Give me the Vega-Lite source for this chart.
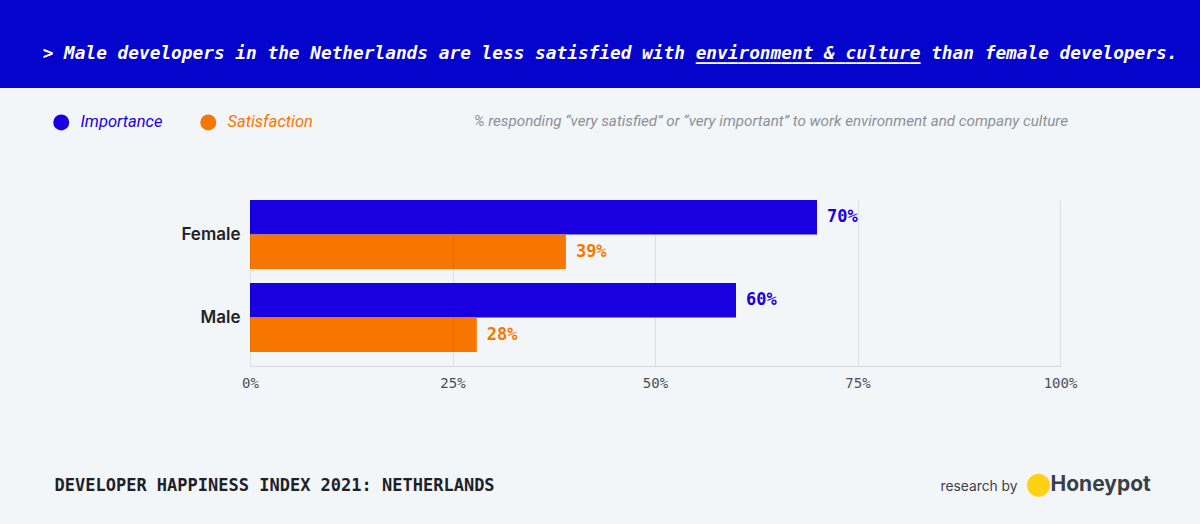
{
  "$schema": "https://vega.github.io/schema/vega-lite/v6.json",
  "background": "#f3f6f9",
  "padding": {"left": 0, "top": 0, "right": 0, "bottom": 28},
  "spacing": 25,
  "config": {"view": {"stroke": null}},
  "vconcat": [
    {
      "width": 1200,
      "height": 88,
      "view": {"fill": "#0404cc", "stroke": null},
      "data": {"values": [{"t": "> Male developers in the Netherlands are less satisfied with environment & culture than female developers.\n\u200b\u00a0\u00a0\u00a0\u00a0\u00a0\u00a0\u00a0\u00a0\u00a0\u00a0\u00a0\u00a0\u00a0\u00a0\u00a0\u00a0\u00a0\u00a0\u00a0\u00a0\u00a0\u00a0\u00a0\u00a0\u00a0\u00a0\u00a0\u00a0\u00a0\u00a0\u00a0\u00a0\u00a0\u00a0\u00a0\u00a0\u00a0\u00a0\u00a0\u00a0\u00a0\u00a0\u00a0\u00a0\u00a0\u00a0\u00a0\u00a0\u00a0\u00a0\u00a0\u00a0\u00a0\u00a0\u00a0\u00a0\u00a0\u00a0\u00a0\u00a0\u00a0_____________________\u00a0\u00a0\u00a0\u00a0\u00a0\u00a0\u00a0\u00a0\u00a0\u00a0\u00a0\u00a0\u00a0\u00a0\u00a0\u00a0\u00a0\u00a0\u00a0\u00a0\u00a0\u00a0\u00a0\u00a0\u200b"}]},
      "mark": {"type": "text", "font": "DejaVu Sans Mono", "fontStyle": "italic", "fontWeight": "bold", "fontSize": 17.8, "color": "#ffffff", "align": "center", "baseline": "middle", "lineBreak": "\n", "lineHeight": 0.5, "dx": 10, "dy": 10},
      "encoding": {"text": {"field": "t", "type": "nominal"}}
    },
    {
      "width": 1060,
      "height": 166,
      "title": {"text": "% responding “very satisfied” or “very important” to work environment and company culture", "frame": "group", "anchor": "end", "offset": 71, "dx": 8, "font": "Roboto", "fontStyle": "italic", "fontWeight": "normal", "fontSize": 15.2, "color": "#8b9098"},
      "data": {"values": [
        {"gender": "Female", "metric": "Importance", "value": 0.70},
        {"gender": "Female", "metric": "Satisfaction", "value": 0.39},
        {"gender": "Male", "metric": "Importance", "value": 0.60},
        {"gender": "Male", "metric": "Satisfaction", "value": 0.28}
      ]},
      "encoding": {
        "yOffset": {"field": "metric", "type": "nominal", "sort": ["Importance", "Satisfaction"], "scale": {"paddingInner": 0, "paddingOuter": 0}},
        "color": {
          "field": "metric", "type": "nominal",
          "scale": {"domain": ["Importance", "Satisfaction"], "range": ["#1a00e0", "#f77600"]},
          "legend": {
            "orient": "none", "legendX": 53, "legendY": 114, "direction": "horizontal", "title": null,
            "symbolType": "circle", "symbolSize": 256, "symbolStrokeWidth": 0, "symbolOpacity": 1,
            "labelFont": "Roboto", "labelFontStyle": "italic", "labelFontSize": 16.5, "labelOffset": 11,
            "columnPadding": 37, "labelLimit": 0,
            "encode": {"labels": {"update": {"fill": {"signal": "datum.label === 'Importance' ? '#1a00e0' : '#f77600'"}}}}
          }
        }
      },
      "layer": [
        {
          "mark": {"type": "bar"},
          "encoding": {
            "x": {
              "field": "value", "type": "quantitative",
              "scale": {"domain": [0, 1], "nice": false, "range": [250, 1060]},
              "axis": {
                "orient": "bottom", "values": [0, 0.25, 0.5, 0.75, 1], "format": ".0%", "labelFlush": false,
                "labelFont": "DejaVu Sans Mono", "labelFontSize": 14, "labelColor": "#4a4f57", "labelPadding": 10,
                "ticks": false, "domainColor": "#d3d7dc", "grid": true, "gridColor": "#000000", "gridOpacity": 0.09, "zindex": 1,
                "title": "DEVELOPER HAPPINESS INDEX 2021: NETHERLANDS", "titleX": 54, "titleY": 124,
                "titleAlign": "left", "titleBaseline": "alphabetic", "titleFont": "DejaVu Sans Mono",
                "titleFontSize": 17, "titleFontWeight": "bold", "titleColor": "#1e2228"
              }
            },
            "y": {
              "field": "gender", "type": "nominal", "sort": ["Female", "Male"],
              "scale": {"paddingInner": 0.1687, "paddingOuter": 0.0843, "align": 0},
              "axis": {
                "orient": "left", "offset": -250, "ticks": false, "domain": false, "grid": false,
                "labelFont": "Inter", "labelFontSize": 17, "labelFontWeight": 600, "labelColor": "#1e2228", "labelPadding": 10,
                "title": "research by", "titleAngle": 0, "titleX": 690, "titleY": 290,
                "titleAlign": "left", "titleBaseline": "alphabetic", "titleFont": "Inter",
                "titleFontSize": 13.8, "titleFontWeight": "normal", "titleColor": "#3d4148"
              }
            }
          }
        },
        {
          "mark": {"type": "text", "align": "left", "baseline": "middle", "dx": 10, "font": "DejaVu Sans Mono", "fontSize": 17, "fontWeight": "bold"},
          "encoding": {
            "text": {"field": "value", "type": "quantitative", "format": ".0%"},
            "x": {
              "field": "value", "type": "quantitative",
              "scale": {"domain": [0, 1], "nice": false, "range": [250, 1060]},
              "axis": {
                "orient": "top", "labels": false, "ticks": false, "domain": false, "grid": false,
                "minExtent": 0, "maxExtent": 0,
                "title": "●", "titleX": 1038, "titleY": 283, "titleAlign": "center", "titleBaseline": "middle",
                "titleFont": "DejaVu Sans", "titleFontSize": 30, "titleColor": "#fcd116"
              }
            },
            "y": {
              "field": "gender", "type": "nominal", "sort": ["Female", "Male"],
              "scale": {"paddingInner": 0.1687, "paddingOuter": 0.0843, "align": 0},
              "axis": {
                "orient": "right", "labels": false, "ticks": false, "domain": false, "grid": false,
                "minExtent": 0, "maxExtent": 0,
                "title": "Honeypot", "titleAngle": 0, "titleX": -10, "titleY": 290,
                "titleAlign": "left", "titleBaseline": "alphabetic", "titleFont": "Inter",
                "titleFontSize": 21, "titleFontWeight": "bold", "titleColor": "#3a3f47"
              }
            }
          }
        }
      ],
      "resolve": {"axis": {"x": "independent", "y": "independent"}}
    }
  ]
}
